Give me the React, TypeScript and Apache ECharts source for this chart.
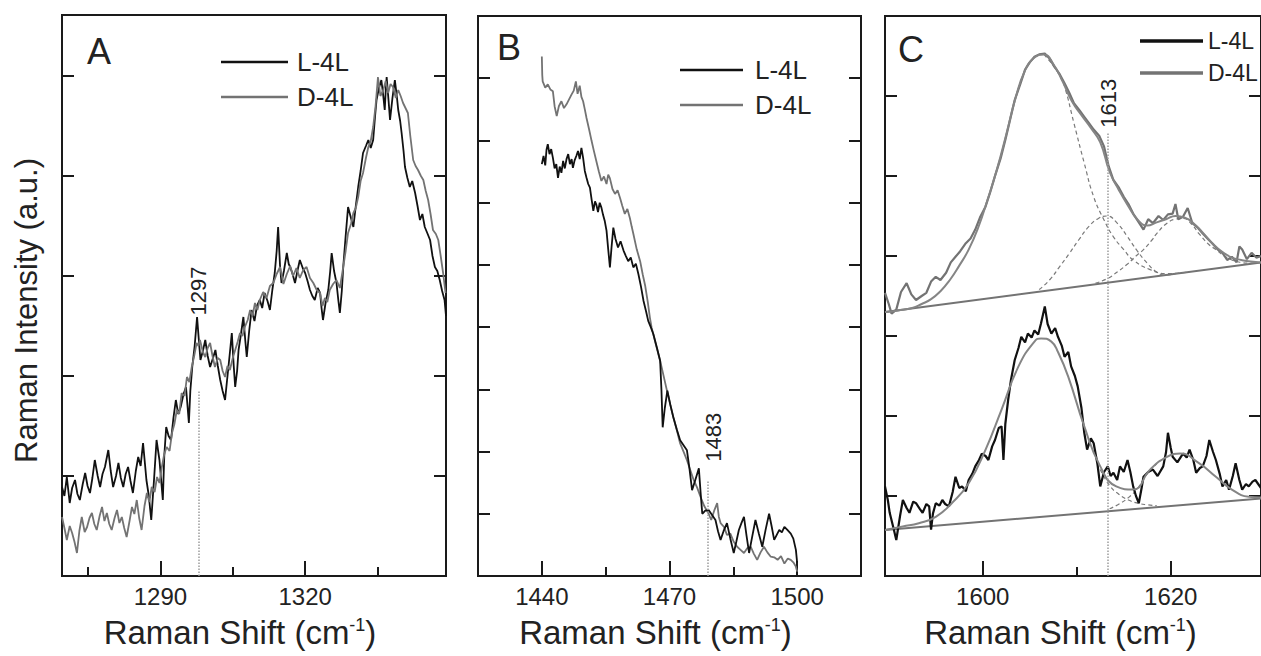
import React, { useEffect, useRef } from "react";
import * as echarts from "echarts";

const FONT = "'Liberation Sans', Arial, Helvetica, sans-serif";
const INK = "#1a1a1a";
const TXT = "#222222";
const BLACK = "#111111";
const GRAY = "#737373";

// ---------- Panel A (1270–1350 cm-1) ----------
const aMajorTicks = [1290, 1320];
const aMinorTicks = [1275, 1305, 1335];
const aL4L: number[][] = [
  [1269.6, 0.89], [1270.1, 0.8], [1270.6, 0.99], [1271.2, 0.73], [1271.7, 0.88], [1272.3, 0.96], [1272.8, 0.82],
  [1273.3, 0.76], [1273.9, 0.92], [1274.4, 1.03], [1274.9, 0.9], [1275.4, 0.83], [1275.9, 0.98], [1276.4, 1.16],
  [1277.0, 1.0], [1277.5, 0.89], [1278.0, 1.02], [1278.5, 1.09], [1279.2, 1.26], [1279.7, 1.05], [1280.2, 0.89],
  [1280.8, 1.0], [1281.3, 1.13], [1281.8, 0.98], [1282.3, 0.89], [1282.8, 1.02], [1283.3, 1.09], [1283.8, 0.95],
  [1284.3, 0.83], [1284.9, 1.05], [1285.4, 1.19], [1285.9, 1.1], [1286.4, 1.33], [1286.8, 1.12], [1287.1, 0.96],
  [1287.6, 0.8], [1288.1, 0.56], [1288.7, 0.98], [1289.2, 1.36], [1289.8, 1.16], [1290.5, 0.76], [1290.8, 1.2],
  [1291.2, 1.49], [1291.7, 1.4], [1292.2, 1.36], [1292.7, 1.58], [1293.2, 1.76], [1293.7, 1.62], [1294.2, 1.69],
  [1294.8, 1.82], [1295.3, 1.89], [1295.9, 1.53], [1296.2, 1.85], [1296.6, 2.09], [1297.1, 2.3], [1297.6, 2.59],
  [1297.9, 2.4], [1298.3, 2.16], [1298.8, 2.25], [1299.3, 2.36], [1299.8, 2.2], [1300.3, 2.09], [1300.9, 2.18],
  [1301.4, 2.26], [1301.9, 2.1], [1302.4, 1.96], [1302.9, 1.85], [1303.4, 1.76], [1303.8, 1.95], [1304.1, 2.09],
  [1304.5, 2.28], [1304.8, 2.43], [1305.2, 2.1], [1305.5, 1.89], [1305.9, 2.05], [1306.2, 2.26], [1306.7, 2.42],
  [1307.2, 2.59], [1307.6, 2.35], [1307.9, 2.19], [1308.4, 2.45], [1308.9, 2.66], [1309.5, 2.55], [1310.0, 2.7],
  [1310.6, 2.76], [1311.1, 2.68], [1311.6, 2.83], [1312.2, 2.75], [1312.7, 2.66], [1313.2, 2.86], [1313.7, 3.03],
  [1314.1, 3.25], [1314.4, 3.49], [1314.8, 3.1], [1315.1, 2.93], [1315.6, 3.05], [1316.2, 3.23], [1316.6, 3.12],
  [1316.9, 3.09], [1317.4, 3.02], [1317.9, 2.93], [1318.4, 3.05], [1318.9, 3.16], [1319.5, 3.08], [1320.0, 3.03],
  [1320.5, 2.95], [1321.0, 2.86], [1321.5, 2.8], [1322.0, 2.76], [1322.6, 2.88], [1323.1, 2.83], [1323.4, 2.68],
  [1323.7, 2.56], [1324.2, 2.72], [1324.8, 2.86], [1325.2, 3.05], [1325.5, 3.23], [1326.0, 3.05], [1326.5, 2.93],
  [1326.9, 2.75], [1327.2, 2.63], [1327.6, 2.85], [1327.9, 3.09], [1328.4, 3.4], [1328.9, 3.69], [1329.5, 3.58],
  [1330.0, 3.49], [1330.5, 3.7], [1331.0, 3.89], [1331.5, 4.05], [1332.0, 4.23], [1332.6, 4.3], [1333.1, 4.36],
  [1333.6, 4.28], [1334.1, 4.36], [1334.5, 4.6], [1334.8, 4.76], [1335.3, 4.88], [1335.8, 4.96], [1336.2, 4.8],
  [1336.5, 4.66], [1336.7, 4.85], [1336.9, 4.99], [1337.3, 4.75], [1337.6, 4.56], [1338.1, 4.78], [1338.6, 4.96],
  [1339.0, 4.8], [1339.3, 4.66], [1339.7, 4.55], [1340.0, 4.43], [1340.4, 4.25], [1340.7, 4.09], [1341.2, 3.98],
  [1341.7, 3.89], [1342.2, 3.95], [1342.8, 3.83], [1343.3, 3.7], [1343.8, 3.56], [1344.3, 3.62], [1344.8, 3.49],
  [1345.4, 3.42], [1345.9, 3.36], [1346.4, 3.2], [1346.9, 3.09], [1347.4, 3.05], [1347.9, 2.96], [1348.4, 2.85],
  [1348.9, 2.76], [1349.2, 2.6],
];
const aD4L: number[][] = [
  [1269.6, 0.59], [1270.1, 0.48], [1270.6, 0.36], [1271.2, 0.5], [1271.7, 0.43], [1272.2, 0.34], [1272.7, 0.23],
  [1273.2, 0.45], [1273.7, 0.59], [1274.3, 0.44], [1274.8, 0.49], [1275.3, 0.58], [1275.8, 0.63], [1276.3, 0.52],
  [1276.8, 0.46], [1277.4, 0.6], [1277.9, 0.69], [1278.4, 0.55], [1278.9, 0.63], [1279.4, 0.52], [1279.9, 0.46],
  [1280.5, 0.58], [1281.0, 0.66], [1281.5, 0.53], [1282.0, 0.59], [1282.5, 0.48], [1283.0, 0.39], [1283.6, 0.55],
  [1284.1, 0.69], [1284.6, 0.62], [1285.1, 0.76], [1285.6, 0.58], [1286.1, 0.46], [1286.7, 0.7], [1287.2, 0.83],
  [1287.7, 0.74], [1288.2, 0.89], [1288.8, 0.84], [1289.3, 0.99], [1289.8, 0.93], [1290.3, 1.09], [1290.8, 1.22],
  [1291.3, 1.29], [1291.9, 1.25], [1292.4, 1.43], [1292.9, 1.52], [1293.4, 1.66], [1293.9, 1.62], [1294.4, 1.83],
  [1295.0, 1.8], [1295.5, 1.99], [1296.0, 1.94], [1296.5, 2.09], [1297.0, 2.2], [1297.5, 2.33], [1297.9, 2.3],
  [1298.2, 2.36], [1298.8, 2.24], [1299.3, 2.19], [1299.8, 2.28], [1300.3, 2.33], [1300.8, 2.2], [1301.3, 2.09],
  [1301.9, 2.18], [1302.4, 2.16], [1302.9, 2.05], [1303.4, 1.99], [1303.9, 2.1], [1304.4, 2.06], [1305.0, 2.18],
  [1305.5, 2.26], [1306.0, 2.34], [1306.5, 2.43], [1307.0, 2.4], [1307.5, 2.49], [1308.1, 2.56], [1308.6, 2.66],
  [1309.1, 2.6], [1309.6, 2.73], [1310.1, 2.66], [1310.6, 2.76], [1311.3, 2.84], [1312.0, 2.78], [1312.7, 2.9],
  [1313.4, 2.93], [1314.1, 3.02], [1314.8, 3.09], [1315.5, 2.92], [1316.2, 3.02], [1316.9, 3.1], [1317.5, 3.0],
  [1318.2, 3.08], [1318.9, 2.98], [1319.6, 3.06], [1320.3, 3.09], [1321.0, 2.98], [1321.7, 2.93], [1322.4, 2.86],
  [1323.1, 2.83], [1323.6, 2.7], [1324.1, 2.78], [1324.6, 2.74], [1325.1, 2.86], [1325.8, 2.92], [1326.5, 2.96],
  [1327.2, 2.88], [1327.9, 3.09], [1328.4, 3.25], [1328.9, 3.43], [1329.5, 3.52], [1330.0, 3.63], [1330.5, 3.68],
  [1331.0, 3.79], [1331.5, 3.95], [1332.0, 4.03], [1332.6, 4.18], [1333.1, 4.29], [1333.6, 4.35], [1334.1, 4.49],
  [1334.6, 4.7], [1335.1, 4.99], [1335.6, 4.8], [1336.2, 4.86], [1336.7, 4.95], [1337.2, 4.83], [1337.7, 4.92],
  [1338.2, 4.89], [1338.8, 4.78], [1339.3, 4.86], [1339.8, 4.8], [1340.3, 4.73], [1340.8, 4.68], [1341.3, 4.63],
  [1341.8, 4.4], [1342.4, 4.16], [1342.9, 4.1], [1343.4, 4.06], [1344.0, 4.0], [1344.5, 3.96], [1345.0, 3.85],
  [1345.5, 3.76], [1346.0, 3.62], [1346.5, 3.46], [1347.1, 3.42], [1347.6, 3.36], [1348.1, 3.2], [1348.6, 3.03],
  [1349.1, 2.83],
];

// ---------- Panel B (1425–1515 cm-1) ----------
const bMajorTicks = [1440, 1470, 1500];
const bMinorTicks = [1455, 1485];
const bL4L: number[][] = [
  [1440.0, 6.62], [1440.4, 6.75], [1440.8, 6.6], [1441.1, 6.85], [1441.4, 6.94], [1441.8, 6.78], [1442.2, 6.86],
  [1442.6, 6.72], [1443.0, 6.55], [1443.4, 6.62], [1443.8, 6.4], [1444.2, 6.58], [1444.6, 6.48], [1445.0, 6.67],
  [1445.4, 6.55], [1445.8, 6.7], [1446.2, 6.78], [1446.6, 6.62], [1447.0, 6.7], [1447.3, 6.56], [1447.7, 6.68],
  [1448.1, 6.75], [1448.5, 6.83], [1448.9, 6.7], [1449.3, 6.88], [1449.7, 6.72], [1450.1, 6.51], [1450.5, 6.4],
  [1450.9, 6.3], [1451.3, 6.24], [1451.7, 6.05], [1452.1, 5.87], [1452.5, 6.02], [1452.8, 5.97], [1453.2, 5.85],
  [1453.6, 6.0], [1454.0, 5.92], [1454.4, 5.8], [1454.8, 5.7], [1455.2, 5.55], [1455.6, 5.25], [1456.0, 4.96],
  [1456.4, 5.3], [1456.8, 5.6], [1457.3, 5.42], [1457.9, 5.28], [1458.5, 5.38], [1459.2, 5.23], [1459.7, 5.15],
  [1460.3, 5.06], [1460.9, 5.12], [1461.5, 4.96], [1462.1, 5.02], [1462.7, 4.85], [1463.3, 4.65], [1463.9, 4.42],
  [1464.5, 4.25], [1465.0, 4.1], [1465.6, 4.0], [1466.2, 3.89], [1467.0, 3.68], [1467.8, 3.46], [1468.1, 3.0],
  [1468.4, 2.39], [1468.9, 2.7], [1469.5, 2.98], [1470.2, 2.75], [1470.9, 2.55], [1471.7, 2.36], [1472.5, 2.18],
  [1473.3, 2.1], [1474.1, 2.02], [1474.7, 1.72], [1475.3, 1.38], [1476.1, 1.55], [1476.9, 1.73], [1477.3, 1.35],
  [1477.7, 1.0], [1478.4, 1.05], [1479.2, 1.06], [1480.0, 0.98], [1480.8, 0.9], [1481.4, 0.72], [1482.0, 0.58],
  [1482.7, 0.72], [1483.5, 0.85], [1484.3, 0.6], [1485.1, 0.37], [1485.7, 0.55], [1486.3, 0.74], [1486.9, 0.85],
  [1487.5, 0.95], [1488.1, 0.65], [1488.7, 0.37], [1489.4, 0.62], [1490.2, 0.9], [1491.0, 0.68], [1491.8, 0.47],
  [1492.6, 0.75], [1493.4, 1.0], [1494.0, 0.8], [1494.6, 0.58], [1495.2, 0.66], [1495.8, 0.74], [1496.4, 0.7],
  [1497.0, 0.79], [1497.7, 0.74], [1498.5, 0.68], [1499.1, 0.6], [1499.7, 0.42], [1500.0, 0.21],
];
const bD4L: number[][] = [
  [1440.0, 8.35], [1440.1, 8.05], [1440.2, 7.95], [1440.8, 7.85], [1441.4, 7.9], [1442.0, 7.82], [1442.6, 7.79],
  [1443.0, 7.55], [1443.5, 7.39], [1444.0, 7.55], [1444.6, 7.63], [1445.2, 7.52], [1445.8, 7.58], [1446.4, 7.66],
  [1447.0, 7.74], [1447.5, 7.8], [1448.0, 7.95], [1448.4, 7.75], [1448.9, 7.88], [1449.3, 7.7], [1449.7, 7.63],
  [1450.1, 7.5], [1450.5, 7.36], [1451.1, 7.18], [1451.7, 6.99], [1452.2, 6.84], [1452.8, 6.67], [1453.4, 6.5],
  [1454.0, 6.35], [1454.6, 6.42], [1455.2, 6.3], [1455.6, 6.45], [1456.0, 6.39], [1456.6, 6.22], [1457.2, 6.14],
  [1457.8, 6.2], [1458.4, 6.07], [1458.9, 5.95], [1459.5, 5.82], [1460.1, 5.9], [1460.7, 5.75], [1461.1, 5.62],
  [1461.5, 5.5], [1462.3, 5.25], [1463.1, 5.06], [1463.7, 4.85], [1464.3, 4.66], [1464.9, 4.4], [1465.4, 4.15],
  [1465.8, 3.99], [1466.8, 3.72], [1467.8, 3.46], [1468.6, 3.22], [1469.4, 2.98], [1470.1, 2.78], [1470.9, 2.55],
  [1471.7, 2.35], [1472.5, 2.13], [1473.3, 2.0], [1474.1, 1.86], [1474.9, 1.7], [1475.7, 1.54], [1476.5, 1.42],
  [1477.3, 1.27], [1478.2, 1.12], [1479.2, 1.0], [1479.8, 0.9], [1480.5, 1.05], [1481.2, 1.17], [1481.6, 0.95],
  [1482.0, 0.85], [1482.8, 0.79], [1483.5, 0.66], [1484.3, 0.68], [1485.1, 0.55], [1485.9, 0.47], [1486.7, 0.42],
  [1487.5, 0.37], [1488.3, 0.45], [1489.1, 0.47], [1489.8, 0.36], [1490.6, 0.26], [1491.4, 0.38], [1492.2, 0.47],
  [1493.0, 0.38], [1493.8, 0.31], [1494.6, 0.3], [1495.4, 0.26], [1496.2, 0.32], [1497.0, 0.2], [1497.8, 0.28],
  [1498.5, 0.26], [1499.1, 0.22], [1499.7, 0.15], [1500.0, 0.07],
];

// ---------- Panel C (1590–1630 cm-1) ----------
const cMajorTicks = [1600, 1620];
const cMinorTicks = [1610];
const cD4L: number[][] = [
  [1589.6, 3.54], [1590.0, 3.4], [1590.3, 3.28], [1590.8, 3.33], [1591.3, 3.55], [1591.9, 3.66], [1592.4, 3.52],
  [1592.9, 3.45], [1593.5, 3.5], [1594.0, 3.54], [1594.5, 3.68], [1595.0, 3.74], [1595.5, 3.7], [1596.1, 3.79],
  [1596.6, 3.92], [1597.1, 3.99], [1597.6, 4.06], [1598.2, 4.16], [1598.7, 4.22], [1599.2, 4.33], [1599.7, 4.48],
  [1600.3, 4.62], [1600.8, 4.8], [1601.3, 5.0], [1601.9, 5.22], [1602.4, 5.45], [1602.9, 5.7], [1603.4, 5.95],
  [1604.0, 6.15], [1604.5, 6.33], [1605.0, 6.42], [1605.5, 6.49], [1606.0, 6.52], [1606.6, 6.53], [1607.1, 6.47],
  [1607.6, 6.37], [1608.2, 6.27], [1608.7, 6.16], [1609.2, 6.04], [1609.7, 5.91], [1610.3, 5.82], [1610.8, 5.74],
  [1611.3, 5.66], [1611.8, 5.58], [1612.4, 5.5], [1612.9, 5.37], [1613.4, 5.12], [1613.9, 4.95], [1614.5, 4.85],
  [1615.0, 4.74], [1615.5, 4.65], [1616.0, 4.53], [1616.6, 4.42], [1617.1, 4.33], [1617.6, 4.46], [1618.1, 4.41],
  [1618.7, 4.5], [1619.2, 4.45], [1619.7, 4.52], [1620.2, 4.53], [1620.5, 4.65], [1620.8, 4.46], [1621.3, 4.49],
  [1621.8, 4.6], [1622.3, 4.41], [1622.9, 4.35], [1623.4, 4.28], [1623.9, 4.22], [1624.4, 4.16], [1625.0, 4.08],
  [1625.5, 4.04], [1626.0, 3.95], [1626.5, 3.99], [1627.0, 3.92], [1627.3, 4.12], [1627.6, 4.08], [1628.1, 3.96],
  [1628.6, 4.04], [1629.1, 3.98], [1629.6, 4.0],
];
const cD4LFit: number[][] = [
  [1589.6, 3.3], [1591.0, 3.32], [1592.5, 3.35], [1593.5, 3.4], [1594.5, 3.46], [1595.5, 3.56], [1596.5, 3.7],
  [1597.5, 3.88], [1598.5, 4.08], [1599.5, 4.35], [1600.5, 4.7], [1601.5, 5.08], [1602.5, 5.52], [1603.5, 5.98],
  [1604.5, 6.32], [1605.5, 6.48], [1606.5, 6.52], [1607.5, 6.4], [1608.5, 6.18], [1609.5, 5.93], [1610.5, 5.76],
  [1611.5, 5.6], [1612.5, 5.42], [1613.5, 5.05], [1614.5, 4.82], [1615.5, 4.62], [1616.5, 4.45], [1617.5, 4.38],
  [1618.5, 4.42], [1619.5, 4.46], [1620.5, 4.5], [1621.5, 4.48], [1622.5, 4.4], [1623.5, 4.28], [1624.5, 4.15],
  [1625.5, 4.05], [1626.5, 3.98], [1627.5, 3.95], [1628.5, 3.93], [1629.6, 3.92],
];
const cD4LBand1: number[][] = [
  [1606.5, 6.52], [1607.5, 6.38], [1608.2, 6.25], [1608.7, 6.12], [1609.7, 5.66], [1610.8, 5.16], [1611.8, 4.74],
  [1612.9, 4.45], [1613.9, 4.24], [1615.0, 4.08], [1616.0, 3.95], [1617.8, 3.83], [1619.6, 3.78], [1622.0, 3.8],
];
const cD4LBand2: number[][] = [
  [1606.0, 3.58], [1607.1, 3.7], [1608.2, 3.87], [1609.2, 4.03], [1610.2, 4.2], [1611.3, 4.37], [1612.3, 4.47],
  [1613.2, 4.5], [1614.3, 4.41], [1615.4, 4.24], [1616.4, 4.07], [1617.5, 3.91], [1618.5, 3.8], [1619.5, 3.76],
  [1620.5, 3.78],
];
const cD4LBand3: number[][] = [
  [1612.0, 3.66], [1613.3, 3.72], [1614.3, 3.8], [1615.4, 3.9], [1616.3, 4.0], [1617.1, 4.08], [1618.0, 4.2],
  [1618.5, 4.28], [1619.6, 4.41], [1620.5, 4.46], [1621.3, 4.47], [1622.2, 4.4], [1623.0, 4.28], [1624.0, 4.15],
  [1624.8, 4.08], [1625.7, 4.0], [1626.5, 3.95], [1627.5, 3.92], [1628.3, 3.91], [1629.6, 3.92],
];
const cD4LBase: number[][] = [[1589.6, 3.3], [1629.6, 3.92]];

const cL4L: number[][] = [
  [1589.6, 1.12], [1589.9, 0.95], [1590.1, 0.79], [1590.5, 0.6], [1590.8, 0.45], [1591.2, 0.75], [1591.5, 0.95],
  [1591.9, 0.85], [1592.2, 0.79], [1592.6, 0.93], [1592.9, 0.91], [1593.3, 0.84], [1593.6, 0.79], [1594.0, 0.9],
  [1594.3, 0.87], [1594.5, 0.58], [1594.7, 0.78], [1595.0, 0.91], [1595.4, 0.88], [1595.7, 0.95], [1596.0, 0.9],
  [1596.4, 0.87], [1596.8, 1.05], [1597.1, 1.24], [1597.5, 1.1], [1597.8, 1.12], [1598.2, 1.06], [1598.5, 1.2],
  [1598.9, 1.28], [1599.2, 1.37], [1599.6, 1.45], [1599.9, 1.53], [1600.3, 1.5], [1600.6, 1.45], [1601.0, 1.62],
  [1601.3, 1.7], [1601.7, 1.85], [1602.0, 1.87], [1602.2, 1.45], [1602.4, 1.9], [1602.7, 2.2], [1603.0, 2.45],
  [1603.4, 2.7], [1603.8, 2.85], [1604.1, 2.99], [1604.5, 2.92], [1604.8, 3.03], [1605.2, 2.98], [1605.5, 3.07],
  [1605.9, 3.02], [1606.2, 3.16], [1606.6, 3.37], [1606.9, 3.15], [1607.3, 3.03], [1607.7, 3.1], [1608.0, 2.99],
  [1608.4, 2.88], [1608.7, 2.74], [1609.1, 2.8], [1609.4, 2.62], [1609.8, 2.5], [1610.1, 2.37], [1610.5, 2.1],
  [1610.8, 1.79], [1611.1, 1.58], [1611.5, 1.72], [1611.8, 1.66], [1612.2, 1.4], [1612.5, 1.12], [1612.9, 1.3],
  [1613.3, 1.37], [1613.6, 1.25], [1613.9, 1.29], [1614.3, 1.2], [1614.6, 1.37], [1615.0, 1.3], [1615.4, 1.45],
  [1615.7, 1.3], [1616.0, 1.12], [1616.3, 1.0], [1616.6, 0.91], [1616.9, 1.1], [1617.1, 1.24], [1617.6, 1.3],
  [1618.1, 1.33], [1618.6, 1.25], [1619.2, 1.37], [1619.5, 1.55], [1619.7, 1.79], [1620.0, 1.6], [1620.2, 1.49],
  [1620.7, 1.42], [1621.3, 1.53], [1621.7, 1.48], [1622.0, 1.58], [1622.4, 1.45], [1622.7, 1.29], [1623.1, 1.35],
  [1623.4, 1.37], [1623.8, 1.5], [1624.1, 1.7], [1624.5, 1.55], [1624.8, 1.45], [1625.2, 1.28], [1625.5, 1.12],
  [1625.9, 1.2], [1626.2, 1.08], [1626.6, 1.25], [1626.9, 1.41], [1627.3, 1.2], [1627.6, 1.08], [1628.0, 1.15],
  [1628.3, 1.12], [1628.7, 1.18], [1629.0, 1.2], [1629.6, 1.1],
];
const cL4LFit: number[][] = [
  [1589.6, 0.575], [1591.5, 0.62], [1593.2, 0.66], [1595.0, 0.74], [1596.7, 0.91], [1598.5, 1.16], [1600.3, 1.58],
  [1602.0, 2.08], [1603.8, 2.62], [1605.5, 2.93], [1606.2, 2.97], [1607.3, 2.93], [1608.0, 2.8], [1609.1, 2.49],
  [1610.8, 1.87], [1612.5, 1.37], [1614.2, 1.12], [1616.0, 1.08], [1617.8, 1.33], [1619.6, 1.49], [1621.0, 1.53],
  [1623.0, 1.41], [1624.8, 1.24], [1626.5, 1.08], [1628.3, 0.99], [1629.6, 0.98],
];
const cL4LBand1: number[][] = [
  [1612.5, 1.33], [1613.5, 1.13], [1614.5, 1.02], [1615.5, 0.95], [1616.5, 0.91], [1617.5, 0.89], [1618.5, 0.88],
];
const cL4LBand3: number[][] = [
  [1613.5, 0.84], [1614.5, 0.9], [1615.5, 0.98], [1616.5, 1.1], [1617.5, 1.28], [1618.5, 1.4],
];
const cL4LBase: number[][] = [[1589.6, 0.575], [1629.6, 0.97]];

// annotated peaks: label, x of the dotted line, its top, label centre
const markA = { label: "1297", x: 1297.9, top: 1.86, labelX: 1297.9, labelY: 2.85 };
const markB = { label: "1483", x: 1479.1, top: 1.54, labelX: 1480.3, labelY: 2.23 };
const markC = { label: "1613", x: 1613.3, top: 5.54, labelX: 1613.4, labelY: 5.91 };

const SERIES_NAMES = ["L-4L", "D-4L"];

function xAxes(gi: number, min: number, max: number, major: number[], minor: number[], nameOffset: number) {
  return [
    {
      gridIndex: gi, type: "value", min, max, position: "bottom",
      axisLine: { show: true, onZero: false, lineStyle: { color: INK, width: 2 } },
      axisTick: { show: true, inside: true, length: 15, customValues: major, lineStyle: { color: INK, width: 2 } },
      axisLabel: {
        show: true, customValues: major, fontSize: 24, color: TXT, margin: 8, fontFamily: FONT,
        formatter: (v: number) => String(v),
      },
      splitLine: { show: false },
      name: "{t|Raman Shift (cm}{s|-1}{t|)}",
      nameLocation: "middle",
      nameGap: 40,
      nameTextStyle: {
        padding: [0, nameOffset, 0, 0],
        rich: {
          t: { fontSize: 33, color: TXT, fontFamily: FONT },
          s: { fontSize: 18, color: TXT, fontFamily: FONT, verticalAlign: "top" },
        },
      },
    },
    {
      gridIndex: gi, type: "value", min, max, position: "bottom",
      axisLine: { show: false },
      axisTick: { show: true, inside: true, length: 9, customValues: minor, lineStyle: { color: INK, width: 2 } },
      axisLabel: { show: false },
      splitLine: { show: false },
    },
  ];
}

function yAxes(gi: number, max: number, name?: string) {
  const base = {
    gridIndex: gi, type: "value", min: 0, max, interval: 1,
    axisLine: { show: true, onZero: false, lineStyle: { color: INK, width: 2 } },
    axisTick: { show: true, inside: true, length: 12, lineStyle: { color: INK, width: 2 } },
    axisLabel: { show: false },
    splitLine: { show: false },
  };
  return [
    {
      ...base, position: "left",
      ...(name
        ? {
            name, nameLocation: "middle", nameGap: 20,
            nameTextStyle: { fontSize: 31, color: TXT, fontFamily: FONT, padding: [0, 30, 0, 0] },
          }
        : {}),
    },
    { ...base, position: "right" },
  ];
}

function dotted(x: number, top: number) {
  return {
    silent: true,
    symbol: ["none", "none"],
    label: { show: false },
    lineStyle: { color: "#9c9c9c", type: "dotted", width: 1.5 },
    data: [[{ coord: [x, 0] }, { coord: [x, top] }]],
  };
}

function line(name: string, xi: number, yi: number, data: number[][], color: string, width: number, extra: any = {}) {
  return {
    type: "line", name, xAxisIndex: xi, yAxisIndex: yi, data,
    symbol: "none", showSymbol: false, clip: true, silent: true,
    lineStyle: { color, width }, itemStyle: { color },
    ...extra,
  };
}

function legend(left: number, top: number, itemWidth: number, thick: number, gap: number, fontSize: number, textPad: number) {
  return {
    left, top, orient: "vertical", itemWidth, itemHeight: thick, itemGap: gap,
    icon: "rect",
    data: SERIES_NAMES, selectedMode: false,
    textStyle: { fontSize, lineHeight: 26, color: TXT, fontFamily: FONT, padding: [0, 0, 0, textPad] },
  };
}

function buildOption(): any {
  const dash = { type: [4, 3], width: 1.2, color: "#7a7a7a" };
  return {
    animation: false,
    backgroundColor: "#ffffff",
    textStyle: { fontFamily: FONT },
    grid: [
      { left: 62, top: 15, width: 384, height: 561, show: true, borderColor: INK, borderWidth: 2, backgroundColor: "transparent" },
      { left: 478, top: 16, width: 383, height: 560, show: true, borderColor: INK, borderWidth: 2, backgroundColor: "transparent" },
      { left: 885, top: 16, width: 380, height: 560, show: true, borderColor: INK, borderWidth: 2, backgroundColor: "transparent" },
    ],
    xAxis: [
      ...xAxes(0, 1269.6, 1349.2, aMajorTicks, aMinorTicks, 28),
      ...xAxes(1, 1425, 1515, bMajorTicks, bMinorTicks, 28),
      ...xAxes(2, 1589.6, 1629.6, cMajorTicks, cMinorTicks, 25),
    ],
    yAxis: [...yAxes(0, 5.61, "Raman Intensity (a.u.)"), ...yAxes(1, 9), ...yAxes(2, 7)],
    legend: [
      legend(216, 44, 67, 2.5, 9, 26, 4),
      legend(675, 52, 63, 2.5, 9, 26, 7),
      legend(1135, 23, 63, 3.5, 6, 23, 0),
    ],
    series: [
      line("L-4L", 0, 0, aL4L, BLACK, 1.8),
      line("D-4L", 0, 0, aD4L, GRAY, 1.8, { markLine: dotted(markA.x, markA.top) }),
      line("D-4L", 2, 2, bD4L, GRAY, 1.8),
      line("L-4L", 2, 2, bL4L, BLACK, 1.8, { markLine: dotted(markB.x, markB.top) }),
      line("base-upper", 4, 4, cD4LBase, GRAY, 2),
      line("base-lower", 4, 4, cL4LBase, GRAY, 2),
      line("band", 4, 4, cD4LBand1, dash.color, 1.2, { smooth: true, lineStyle: dash }),
      line("band", 4, 4, cD4LBand2, dash.color, 1.2, { smooth: true, lineStyle: dash }),
      line("band", 4, 4, cD4LBand3, dash.color, 1.2, { smooth: true, lineStyle: dash }),
      line("band", 4, 4, cL4LBand1, dash.color, 1.2, { smooth: true, lineStyle: dash }),
      line("band", 4, 4, cL4LBand3, dash.color, 1.2, { smooth: true, lineStyle: dash }),
      line("L-4L", 4, 4, cL4L, BLACK, 2.2, { markLine: dotted(markC.x, markC.top) }),
      line("D-4L", 4, 4, cD4L, GRAY, 2.2),
      line("fit", 4, 4, cD4LFit, "#858585", 2, { smooth: true }),
      line("fit", 4, 4, cL4LFit, "#858585", 2, { smooth: true }),
    ],
  };
}

export default function App() {
  const ref = useRef<HTMLDivElement>(null);
  useEffect(() => {
    const el = ref.current;
    if (!el) return;
    const chart = echarts.init(el, null, { renderer: "svg" });
    chart.setOption(buildOption());
    const toPx = (xi: number, yi: number, p: number[]) =>
      chart.convertToPixel({ xAxisIndex: xi, yAxisIndex: yi } as any, p) as unknown as number[];
    const pA = toPx(0, 0, [markA.labelX, markA.labelY]);
    const pB = toPx(2, 2, [markB.labelX, markB.labelY]);
    const pC = toPx(4, 4, [markC.labelX, markC.labelY]);
    const rot = (p: number[], text: string, size: number) => ({
      type: "text", x: p[0], y: p[1], rotation: Math.PI / 2, silent: true,
      style: { text, fontSize: size, fontFamily: FONT, fill: TXT, align: "center", verticalAlign: "middle" },
    });
    const letter = (x: number, y: number, text: string) => ({
      type: "text", x, y, silent: true,
      style: { text, fontSize: 36, fontFamily: FONT, fill: TXT, align: "left", verticalAlign: "middle" },
    });
    chart.setOption({
      graphic: [
        letter(87, 51, "A"),
        letter(497, 47, "B"),
        letter(898, 49, "C"),
        rot(pA, markA.label, 22),
        rot(pB, markB.label, 22),
        rot(pC, markC.label, 22),
      ],
    });
    return () => chart.dispose();
  }, []);
  return (
    <div
      ref={ref}
      style={{ position: "fixed", left: 0, top: 0, width: 1261, height: 656, background: "#fff" }}
    />
  );
}
